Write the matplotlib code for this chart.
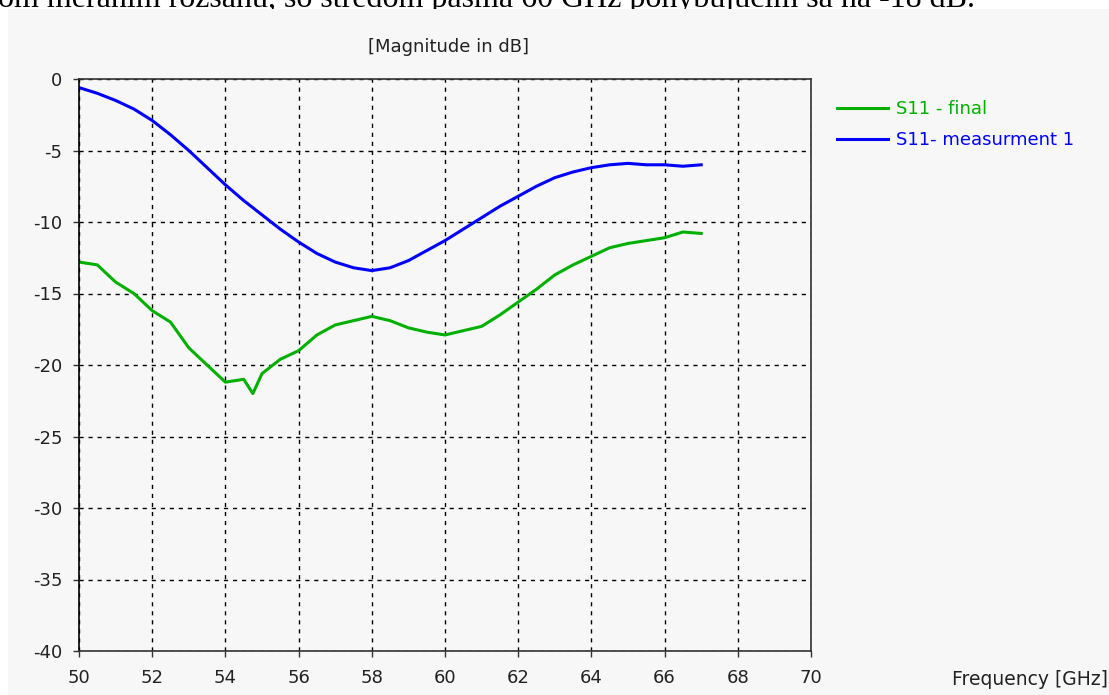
import matplotlib.pyplot as plt
from matplotlib.patches import Rectangle
from matplotlib.lines import Line2D

# Datos
freq_meas = [50, 50.5, 51, 51.5, 52, 52.5, 53, 53.5, 54, 54.5, 55, 55.5, 56, 56.5,
             57, 57.5, 58, 58.5, 59, 59.5, 60, 60.5, 61, 61.5, 62, 62.5, 63, 63.5,
             64, 64.5, 65, 65.5, 66, 66.5, 67]
s11_meas = [-0.6, -1.0, -1.5, -2.1, -2.9, -3.9, -5.0, -6.2, -7.4, -8.5, -9.5, -10.5,
            -11.4, -12.2, -12.8, -13.2, -13.4, -13.2, -12.7, -12.0, -11.3, -10.5,
            -9.7, -8.9, -8.2, -7.5, -6.9, -6.5, -6.2, -6.0, -5.9, -6.0, -6.0, -6.1, -6.0]

freq_final = [50, 50.5, 51, 51.5, 52, 52.5, 53, 53.5, 54, 54.5, 54.75, 55, 55.5, 56,
              56.5, 57, 57.5, 58, 58.5, 59, 59.5, 60, 60.5, 61, 61.5, 62, 62.5, 63,
              63.5, 64, 64.5, 65, 65.5, 66, 66.5, 67]
s11_final = [-12.8, -13.0, -14.2, -15.0, -16.2, -17.0, -18.8, -20.0, -21.2, -21.0,
             -22.0, -20.6, -19.6, -19.0, -17.9, -17.2, -16.9, -16.6, -16.9, -17.4,
             -17.7, -17.9, -17.6, -17.3, -16.5, -15.6, -14.7, -13.7, -13.0, -12.4,
             -11.8, -11.5, -11.3, -11.1, -10.7, -10.8]

x_ticks = list(range(50, 71, 2))
y_ticks = list(range(-40, 1, 5))

W, H = 1109, 695
bg = '#f7f7f7'
green = '#00b000'
blue = '#0000ff'
txt = '#222222'

plt.rcParams['axes.unicode_minus'] = False

fig = plt.figure(figsize=(W / 100, H / 100), dpi=100)
fig.patch.set_facecolor('white')

# texto del documento cortado arriba
fig.text(-2 / W, 1 - 7 / H, 'om meraním rozsahu, so stredom pásma 60 GHz pohybujúcim sa na -18 dB.',
         family='Liberation Serif', fontsize=23, va='baseline', ha='left', zorder=0.5)

# panel gris
fig.patches.append(Rectangle((8 / W, 0), 1, 1 - 9 / H, transform=fig.transFigure,
                             facecolor=bg, edgecolor='none', zorder=1))

ax = fig.add_axes([79 / W, 44 / H, (811 - 79) / W, (651 - 79) / H])
ax.set_zorder(2)
ax.set_facecolor(bg)

ax.plot(freq_final, s11_final, color=green, lw=2.2)
ax.plot(freq_meas, s11_meas, color=blue, lw=2.2)

ax.set_xlim(50, 70)
ax.set_ylim(-40, 0)
ax.set_xticks(x_ticks)
ax.set_yticks(y_ticks)
ax.tick_params(direction='out', length=4, width=1, colors='#333333', labelcolor=txt,
               labelsize=13, pad=9)
ax.tick_params(axis='y', pad=8)
ax.grid(True, color='black', linestyle=(0, (3, 3.5)), linewidth=1)
for side in ['top', 'right', 'bottom']:
    ax.spines[side].set_color('#333333')
    ax.spines[side].set_linewidth(1.2)
ax.spines['left'].set_color('black')
ax.spines['left'].set_linewidth(1.2)

fig.text(448 / W, 1 - 47 / H, '[Magnitude in dB]', ha='center', va='center',
         fontsize=13, color=txt, zorder=3)
fig.text(952 / W, 1 - 685 / H, 'Frequency [GHz]', ha='left', va='baseline',
         fontsize=13.5, color=txt, zorder=3)

handles = [Line2D([], [], color=green, lw=2.2), Line2D([], [], color=blue, lw=2.2)]
leg = fig.legend(handles, ['S11 - final', 'S11- measurment 1'], loc='upper left',
                 bbox_to_anchor=(821 / W, 1 - 84 / H), frameon=False, fontsize=13,
                 handlelength=2.8, handletextpad=0.45, labelspacing=0.7,
                 labelcolor=[green, blue])

plt.savefig('out.png', dpi=100, facecolor=fig.get_facecolor())
